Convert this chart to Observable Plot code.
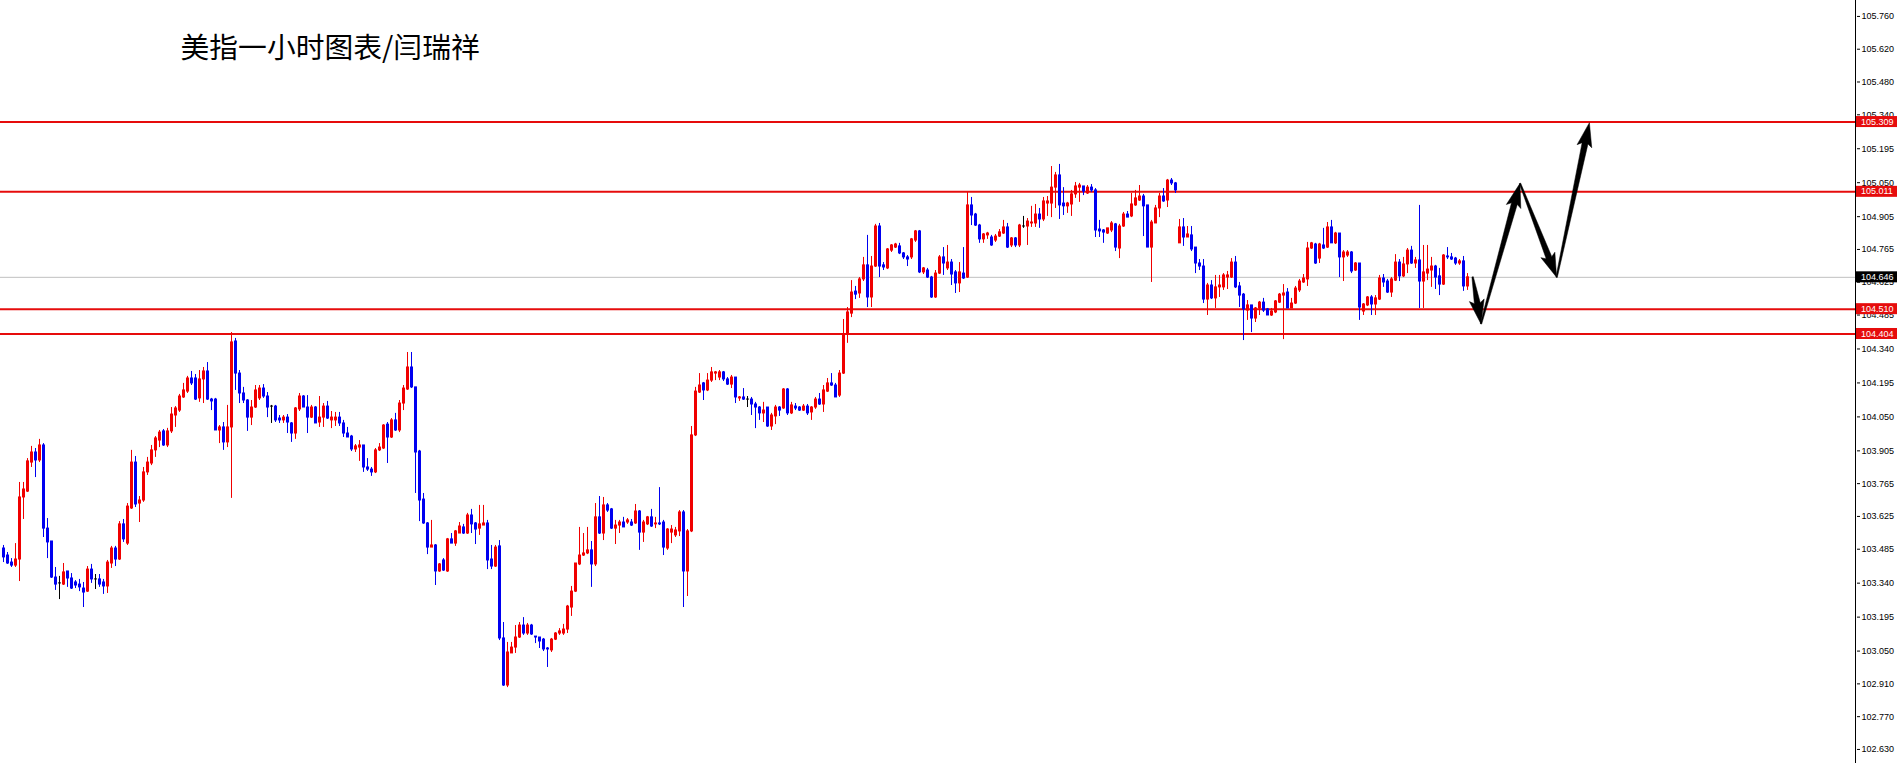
<!DOCTYPE html>
<html><head><meta charset="utf-8">
<script src="https://cdn.jsdelivr.net/npm/d3@7"></script>
<script src="https://cdn.jsdelivr.net/npm/@observablehq/plot@0.6"></script>
<style>html,body{margin:0;padding:0;background:#fff;overflow:hidden}</style>
</head><body><div id="chart"></div>
<script>
const title = "美指一小时图表/闫瑞祥";

const opens = [103.488,103.458,103.428,103.415,103.441,103.706,103.731,103.855,103.898,103.864,
103.928,103.573,103.518,103.364,103.339,103.334,103.390,103.360,103.343,103.334,
103.317,103.304,103.398,103.356,103.356,103.343,103.326,103.424,103.488,103.441,
103.591,103.509,103.659,103.855,103.680,103.693,103.813,103.851,103.907,103.949,
103.988,103.928,103.988,104.056,104.077,104.133,104.158,104.214,104.214,104.129,
104.210,104.244,104.124,104.124,103.992,104.005,103.941,104.005,104.372,104.235,
104.150,104.120,104.047,104.090,104.129,104.171,104.137,104.094,104.094,104.043,
104.035,104.047,104.022,103.979,104.082,104.137,104.090,104.047,104.090,104.026,
104.047,104.094,104.035,104.035,104.047,104.022,103.979,103.966,103.911,103.919,
103.928,103.834,103.825,103.813,103.907,103.915,104.017,103.962,104.035,103.992,
104.107,104.167,104.261,104.176,103.902,103.697,103.595,103.492,103.501,103.390,
103.437,103.390,103.527,103.509,103.552,103.578,103.552,103.629,103.595,103.573,
103.586,103.595,103.441,103.411,103.497,103.104,102.903,103.040,103.065,103.108,
103.159,103.125,103.159,103.112,103.108,103.099,103.061,103.053,103.099,103.125,
103.125,103.142,103.236,103.304,103.420,103.458,103.467,103.480,103.420,103.621,
103.552,103.672,103.655,103.573,103.586,103.599,103.599,103.599,103.595,103.646,
103.556,103.591,103.621,103.591,103.595,103.599,103.488,103.556,103.544,103.561,
103.642,103.390,103.561,103.971,104.154,104.193,104.163,104.205,104.235,104.218,
104.240,104.210,104.188,104.218,104.129,104.133,104.124,104.124,104.103,104.090,
104.065,104.090,104.009,104.052,104.090,104.086,104.167,104.065,104.094,104.090,
104.077,104.094,104.069,104.090,104.124,104.103,104.158,104.193,104.184,104.141,
104.235,104.402,104.491,104.585,104.577,104.637,104.697,104.560,104.692,104.863,
104.697,104.684,104.760,104.773,104.778,104.748,104.731,104.731,104.803,104.842,
104.667,104.675,104.645,104.560,104.662,104.731,104.684,104.709,104.667,104.620,
104.662,104.645,104.953,104.914,104.867,104.808,104.825,104.816,104.803,104.820,
104.833,104.859,104.782,104.812,104.782,104.863,104.863,104.876,104.876,104.914,
104.893,104.961,104.961,105.029,105.081,104.961,104.949,104.957,105.000,105.029,
105.034,105.004,105.029,105.017,104.850,104.846,104.833,104.846,104.872,104.769,
104.863,104.914,104.906,104.953,104.974,104.991,104.953,104.773,104.876,104.940,
104.991,104.974,105.059,105.047,104.791,104.859,104.816,104.825,104.773,104.705,
104.692,104.551,104.611,104.556,104.603,104.603,104.645,104.645,104.709,104.607,
104.572,104.504,104.526,104.470,104.513,104.538,104.509,104.483,104.496,104.538,
104.568,104.581,104.513,104.534,104.590,104.624,104.637,104.769,104.786,104.726,
104.782,104.773,104.859,104.791,104.833,104.731,104.739,104.752,104.675,104.705,
104.500,104.526,104.560,104.530,104.551,104.641,104.628,104.581,104.632,104.709,
104.650,104.701,104.760,104.705,104.718,104.628,104.662,104.675,104.692,104.650,
104.615,104.735,104.731,104.726,104.705,104.714,104.607];

const highs = [103.501,103.471,103.445,103.509,103.770,103.770,103.872,103.924,103.915,103.954,
103.936,103.616,103.518,103.407,103.369,103.424,103.390,103.381,103.351,103.356,
103.343,103.411,103.420,103.377,103.377,103.356,103.437,103.497,103.497,103.603,
103.612,103.680,103.907,103.881,103.710,103.834,103.877,103.928,103.966,103.992,
103.996,104.001,104.090,104.094,104.146,104.193,104.223,104.244,104.231,104.248,
104.261,104.282,104.129,104.129,104.013,104.026,104.099,104.410,104.385,104.248,
104.176,104.124,104.120,104.184,104.184,104.188,104.154,104.099,104.099,104.056,
104.056,104.060,104.026,104.090,104.150,104.141,104.141,104.099,104.094,104.137,
104.107,104.116,104.073,104.069,104.069,104.035,104.005,103.971,103.932,103.949,
103.928,103.872,103.834,103.915,103.936,104.017,104.026,104.043,104.065,104.120,
104.184,104.325,104.325,104.176,103.907,103.723,103.599,103.608,103.505,103.424,
103.445,103.531,103.552,103.565,103.599,103.591,103.638,103.655,103.599,103.672,
103.672,103.608,103.501,103.501,103.522,103.172,103.087,103.087,103.159,103.172,
103.193,103.168,103.164,103.112,103.108,103.104,103.065,103.104,103.129,103.146,
103.164,103.245,103.326,103.424,103.578,103.552,103.578,103.518,103.680,103.710,
103.706,103.680,103.659,103.608,103.608,103.621,103.616,103.612,103.676,103.650,
103.608,103.625,103.655,103.621,103.748,103.608,103.573,103.586,103.578,103.650,
103.650,103.569,104.009,104.176,104.235,104.197,104.235,104.261,104.244,104.248,
104.244,104.218,104.227,104.218,104.137,104.171,104.137,104.133,104.112,104.094,
104.112,104.090,104.065,104.099,104.094,104.171,104.171,104.112,104.107,104.094,
104.103,104.103,104.094,104.133,104.150,104.184,104.214,104.235,104.193,104.248,
104.466,104.517,104.632,104.607,104.645,104.731,104.825,104.735,104.872,104.876,
104.709,104.769,104.786,104.791,104.791,104.752,104.739,104.812,104.846,104.846,
104.688,104.684,104.650,104.675,104.739,104.773,104.782,104.722,104.675,104.709,
104.773,105.008,104.987,104.919,104.872,104.833,104.838,104.825,104.829,104.850,
104.889,104.876,104.816,104.816,104.872,104.906,104.897,104.949,104.957,104.940,
104.987,104.991,105.119,105.094,105.128,105.029,104.966,105.017,105.051,105.047,
105.034,105.038,105.042,105.025,104.889,104.850,104.855,104.884,104.876,104.872,
104.923,104.927,105.004,105.017,105.038,105.000,104.953,104.889,104.953,105.004,
105.025,105.064,105.068,105.051,104.893,104.897,104.863,104.863,104.773,104.722,
104.722,104.620,104.632,104.654,104.654,104.662,104.671,104.726,104.735,104.624,
104.577,104.547,104.526,104.517,104.543,104.556,104.513,104.513,104.547,104.577,
104.615,104.598,104.556,104.607,104.637,104.658,104.795,104.795,104.791,104.791,
104.855,104.880,104.889,104.838,104.833,104.760,104.760,104.756,104.709,104.705,
104.534,104.564,104.568,104.568,104.654,104.658,104.637,104.645,104.743,104.722,
104.731,104.769,104.778,104.731,104.953,104.782,104.782,104.731,104.697,104.684,
104.743,104.773,104.748,104.731,104.722,104.735,104.662];

const lows = [103.428,103.420,103.407,103.407,103.347,103.612,103.727,103.834,103.791,103.855,
103.535,103.445,103.360,103.309,103.270,103.330,103.322,103.313,103.317,103.304,
103.236,103.300,103.339,103.313,103.322,103.292,103.296,103.403,103.411,103.437,
103.514,103.501,103.655,103.663,103.599,103.685,103.800,103.842,103.877,103.919,
103.924,103.919,103.979,104.005,104.069,104.129,104.150,104.184,104.120,104.112,
104.107,104.120,104.077,103.992,103.936,103.907,103.919,103.702,104.163,104.107,
104.107,103.988,104.013,104.086,104.120,104.129,104.047,104.022,104.026,104.022,
104.022,103.979,103.941,103.954,104.073,104.090,103.979,104.043,104.022,104.005,
104.005,104.039,104.000,104.009,104.009,103.962,103.962,103.902,103.898,103.860,
103.813,103.817,103.796,103.808,103.902,103.911,103.851,103.958,103.988,103.983,
104.077,104.163,104.171,103.723,103.603,103.591,103.462,103.492,103.330,103.386,
103.390,103.386,103.509,103.497,103.552,103.548,103.548,103.552,103.505,103.544,
103.586,103.398,103.398,103.407,103.095,102.899,102.894,103.040,103.040,103.104,
103.117,103.117,103.117,103.082,103.061,103.048,102.980,103.044,103.095,103.117,
103.117,103.125,103.198,103.300,103.415,103.454,103.462,103.322,103.411,103.548,
103.522,103.642,103.569,103.505,103.552,103.578,103.591,103.582,103.591,103.480,
103.514,103.586,103.578,103.573,103.586,103.458,103.480,103.509,103.535,103.539,
103.236,103.283,103.556,103.966,104.150,104.120,104.158,104.197,104.205,104.205,
104.201,104.184,104.171,104.107,104.116,104.120,104.090,104.056,104.000,104.035,
104.026,104.005,103.992,104.017,104.052,104.082,104.056,104.060,104.077,104.073,
104.073,104.056,104.035,104.082,104.099,104.069,104.154,104.180,104.133,104.133,
104.231,104.364,104.474,104.551,104.556,104.628,104.517,104.517,104.688,104.645,
104.675,104.679,104.752,104.769,104.743,104.722,104.692,104.722,104.795,104.662,
104.658,104.641,104.556,104.556,104.658,104.654,104.675,104.611,104.577,104.581,
104.637,104.641,104.867,104.863,104.791,104.791,104.808,104.778,104.795,104.816,
104.829,104.769,104.773,104.773,104.773,104.855,104.782,104.859,104.859,104.855,
104.884,104.906,104.901,104.940,104.893,104.910,104.919,104.906,104.983,104.966,
104.995,105.000,105.008,104.816,104.816,104.791,104.829,104.837,104.756,104.726,
104.859,104.901,104.901,104.949,104.970,104.820,104.773,104.624,104.876,104.901,
104.966,104.944,105.038,105.004,104.791,104.778,104.816,104.756,104.662,104.675,
104.534,104.483,104.551,104.513,104.560,104.590,104.594,104.641,104.598,104.517,
104.376,104.462,104.410,104.453,104.483,104.496,104.483,104.479,104.491,104.534,
104.380,104.513,104.513,104.530,104.581,104.620,104.607,104.765,104.701,104.705,
104.765,104.769,104.791,104.786,104.645,104.628,104.731,104.662,104.671,104.462,
104.483,104.521,104.483,104.483,104.547,104.603,104.577,104.560,104.628,104.628,
104.645,104.662,104.701,104.684,104.513,104.513,104.632,104.603,104.594,104.568,
104.611,104.722,104.718,104.697,104.697,104.586,104.590];

const closes = [103.450,103.424,103.415,103.441,103.706,103.740,103.860,103.898,103.864,103.928,
103.573,103.514,103.364,103.334,103.339,103.386,103.360,103.317,103.330,103.322,
103.300,103.398,103.356,103.356,103.334,103.326,103.428,103.488,103.441,103.591,
103.527,103.667,103.855,103.676,103.693,103.813,103.855,103.907,103.958,103.983,
103.928,103.988,104.060,104.086,104.137,104.163,104.214,104.193,104.124,104.210,
104.244,104.124,104.116,103.992,104.005,103.941,104.005,104.368,104.235,104.150,
104.120,104.047,104.090,104.163,104.171,104.137,104.090,104.094,104.035,104.035,
104.047,104.026,103.979,104.086,104.137,104.090,104.047,104.090,104.022,104.047,
104.094,104.043,104.047,104.047,104.022,103.979,103.962,103.911,103.924,103.928,
103.834,103.825,103.813,103.907,103.919,104.013,103.962,104.035,103.992,104.107,
104.171,104.261,104.176,103.898,103.693,103.595,103.492,103.501,103.390,103.420,
103.394,103.527,103.509,103.561,103.582,103.552,103.629,103.591,103.569,103.591,
103.595,103.437,103.411,103.492,103.104,102.903,103.044,103.065,103.108,103.159,
103.125,103.159,103.121,103.108,103.091,103.057,103.057,103.099,103.125,103.134,
103.142,103.240,103.304,103.424,103.458,103.467,103.480,103.420,103.621,103.552,
103.672,103.650,103.573,103.586,103.599,103.578,103.608,103.586,103.646,103.556,
103.599,103.621,103.582,103.595,103.591,103.492,103.569,103.569,103.565,103.642,
103.390,103.561,103.971,104.158,104.184,104.163,104.205,104.240,104.240,104.240,
104.210,104.188,104.218,104.133,104.133,104.124,104.124,104.103,104.090,104.065,
104.077,104.009,104.056,104.090,104.077,104.167,104.065,104.099,104.086,104.077,
104.094,104.065,104.090,104.124,104.103,104.163,104.193,104.184,104.133,104.235,
104.402,104.496,104.581,104.572,104.637,104.697,104.560,104.692,104.863,104.692,
104.688,104.765,104.782,104.786,104.748,104.731,104.722,104.808,104.842,104.667,
104.684,104.645,104.560,104.662,104.731,104.705,104.709,104.658,104.620,104.667,
104.641,104.953,104.910,104.867,104.808,104.829,104.833,104.782,104.820,104.838,
104.859,104.773,104.812,104.782,104.867,104.863,104.884,104.880,104.914,104.893,
104.970,104.970,105.029,105.081,104.953,104.949,104.961,105.000,105.034,105.038,
105.012,105.029,105.017,104.846,104.842,104.837,104.855,104.876,104.773,104.863,
104.914,104.901,104.957,104.983,104.991,104.949,104.773,104.880,104.940,104.991,
104.970,105.059,105.047,105.017,104.859,104.816,104.829,104.765,104.705,104.692,
104.551,104.611,104.556,104.603,104.611,104.654,104.654,104.709,104.603,104.568,
104.509,104.526,104.470,104.513,104.538,104.504,104.483,104.500,104.543,104.572,
104.577,104.513,104.534,104.598,104.628,104.641,104.769,104.791,104.705,104.786,
104.769,104.859,104.791,104.833,104.731,104.752,104.752,104.671,104.705,104.517,
104.530,104.560,104.530,104.556,104.641,104.624,104.581,104.637,104.709,104.650,
104.701,104.760,104.705,104.718,104.628,104.667,104.679,104.692,104.645,104.615,
104.739,104.731,104.722,104.705,104.714,104.607,104.646];

const levels = [105.309, 105.011, 104.510, 104.404];
const bid = 104.646;
const yTicks = [105.760,105.620,105.480,105.340,105.195,105.050,104.905,104.765,104.625,104.485,104.340,104.195,
                104.050,103.905,103.765,103.625,103.485,103.340,103.195,103.050,102.910,102.770,102.630];
// forecast path (bar index, price)
const arrowIdx = [367.4, 369.5, 379.25, 388.4, 396.6];
const arrowPrice = [104.646, 104.445, 105.045, 104.644, 105.304];

const RED = "#f00000", BLUE = "#0000f0", LINE_RED = "#e60c0c";
const candles = opens.map((o, i) => ({i, open: o, high: highs[i], low: lows[i], close: closes[i]}));
const col = d => d.close > d.open ? RED : d.close < d.open ? BLUE : "#000000";

function arrowsMark(index, scales) {
  const g = d3.create("svg:g");
  const pts = arrowIdx.map((v, k) => [scales.x(v), scales.y(arrowPrice[k])]);
  for (let k = 0; k < pts.length - 1; k++) {
    const [x0, y0] = pts[k], [x1, y1] = pts[k + 1];
    const dx = x1 - x0, dy = y1 - y0, L = Math.hypot(dx, dy);
    const ux = dx / L, uy = dy / L, nx = -uy, ny = ux;
    const hl = Math.min(21, L * 0.45), hw = 7.5, sw0 = 0.7, sw1 = 3;
    const bx = x1 - ux * hl, by = y1 - uy * hl;
    const P = [
      [x0 + nx * sw0, y0 + ny * sw0], [bx + nx * sw1, by + ny * sw1],
      [bx + nx * hw - ux * 3, by + ny * hw - uy * 3], [x1, y1],
      [bx - nx * hw - ux * 3, by - ny * hw - uy * 3], [bx - nx * sw1, by - ny * sw1],
      [x0 - nx * sw0, y0 - ny * sw0]
    ];
    g.append("path").attr("d", "M" + P.map(p => p[0].toFixed(2) + "," + p[1].toFixed(2)).join("L") + "Z")
      .attr("fill", "#000").attr("stroke", "#000").attr("stroke-width", 0.5);
  }
  return g.node();
}

function axisLineAndTags(index, scales, values, dims) {
  const g = d3.create("svg:g");
  const x0 = dims.width - dims.marginRight;
  g.append("line").attr("x1", x0 - 0.5).attr("x2", x0 - 0.5).attr("y1", 0).attr("y2", dims.height)
    .attr("stroke", "#000").attr("stroke-width", 1);
  const tags = levels.map(v => ({v, c: LINE_RED})).concat([{v: bid, c: "#000"}]);
  for (const t of tags) {
    const y = scales.y(t.v);
    g.append("rect").attr("x", x0).attr("y", y - 5.5).attr("width", 41).attr("height", 11).attr("fill", t.c);
    g.append("text").attr("x", x0 + 5).attr("y", y).attr("dy", "0.35em").attr("fill", "#fff")
      .attr("text-anchor", "start")
      .attr("font-size", 9).attr("font-family", "'Liberation Sans', Arial, sans-serif").text(t.v.toFixed(3));
  }
  return g.node();
}

const chart = Plot.plot({
  width: 1900, height: 763,
  marginTop: 0, marginBottom: 0, marginLeft: 0, marginRight: 44,
  style: {background: "#fff", fontFamily: "'Liberation Sans', Arial, sans-serif", fontSize: "9px", color: "#000"},
  x: {type: "linear", domain: [-0.75, 463.25], axis: null},
  y: {type: "linear", domain: [102.570, 105.828], axis: "right", ticks: yTicks, tickSize: 3, tickPadding: 2,
      tickFormat: d => d.toFixed(3), label: null},
  marks: [
    Plot.ruleY([bid], {stroke: "#c0c0c0", strokeWidth: 1}),
    Plot.ruleY(levels, {stroke: LINE_RED, strokeWidth: 2}),
    Plot.ruleX(candles, {x: "i", y1: "high", y2: "low", stroke: col, strokeWidth: 1}),
    Plot.ruleX(candles, {x: "i", y1: d => Math.max(d.open, d.close), y2: d => Math.min(d.open, d.close),
      stroke: col, strokeWidth: 3, insetTop: -0.5, insetBottom: -0.5}),
    arrowsMark,
    axisLineAndTags,
    Plot.text([title], {frameAnchor: "top-left", dx: 180, dy: 48, text: d => d, textAnchor: "start",
      lineAnchor: "middle", fontSize: 28.8, fontFamily: "'Noto Sans CJK SC', sans-serif", fill: "#000"})
  ]
});
document.getElementById("chart").appendChild(chart);
</script>
</body></html>
